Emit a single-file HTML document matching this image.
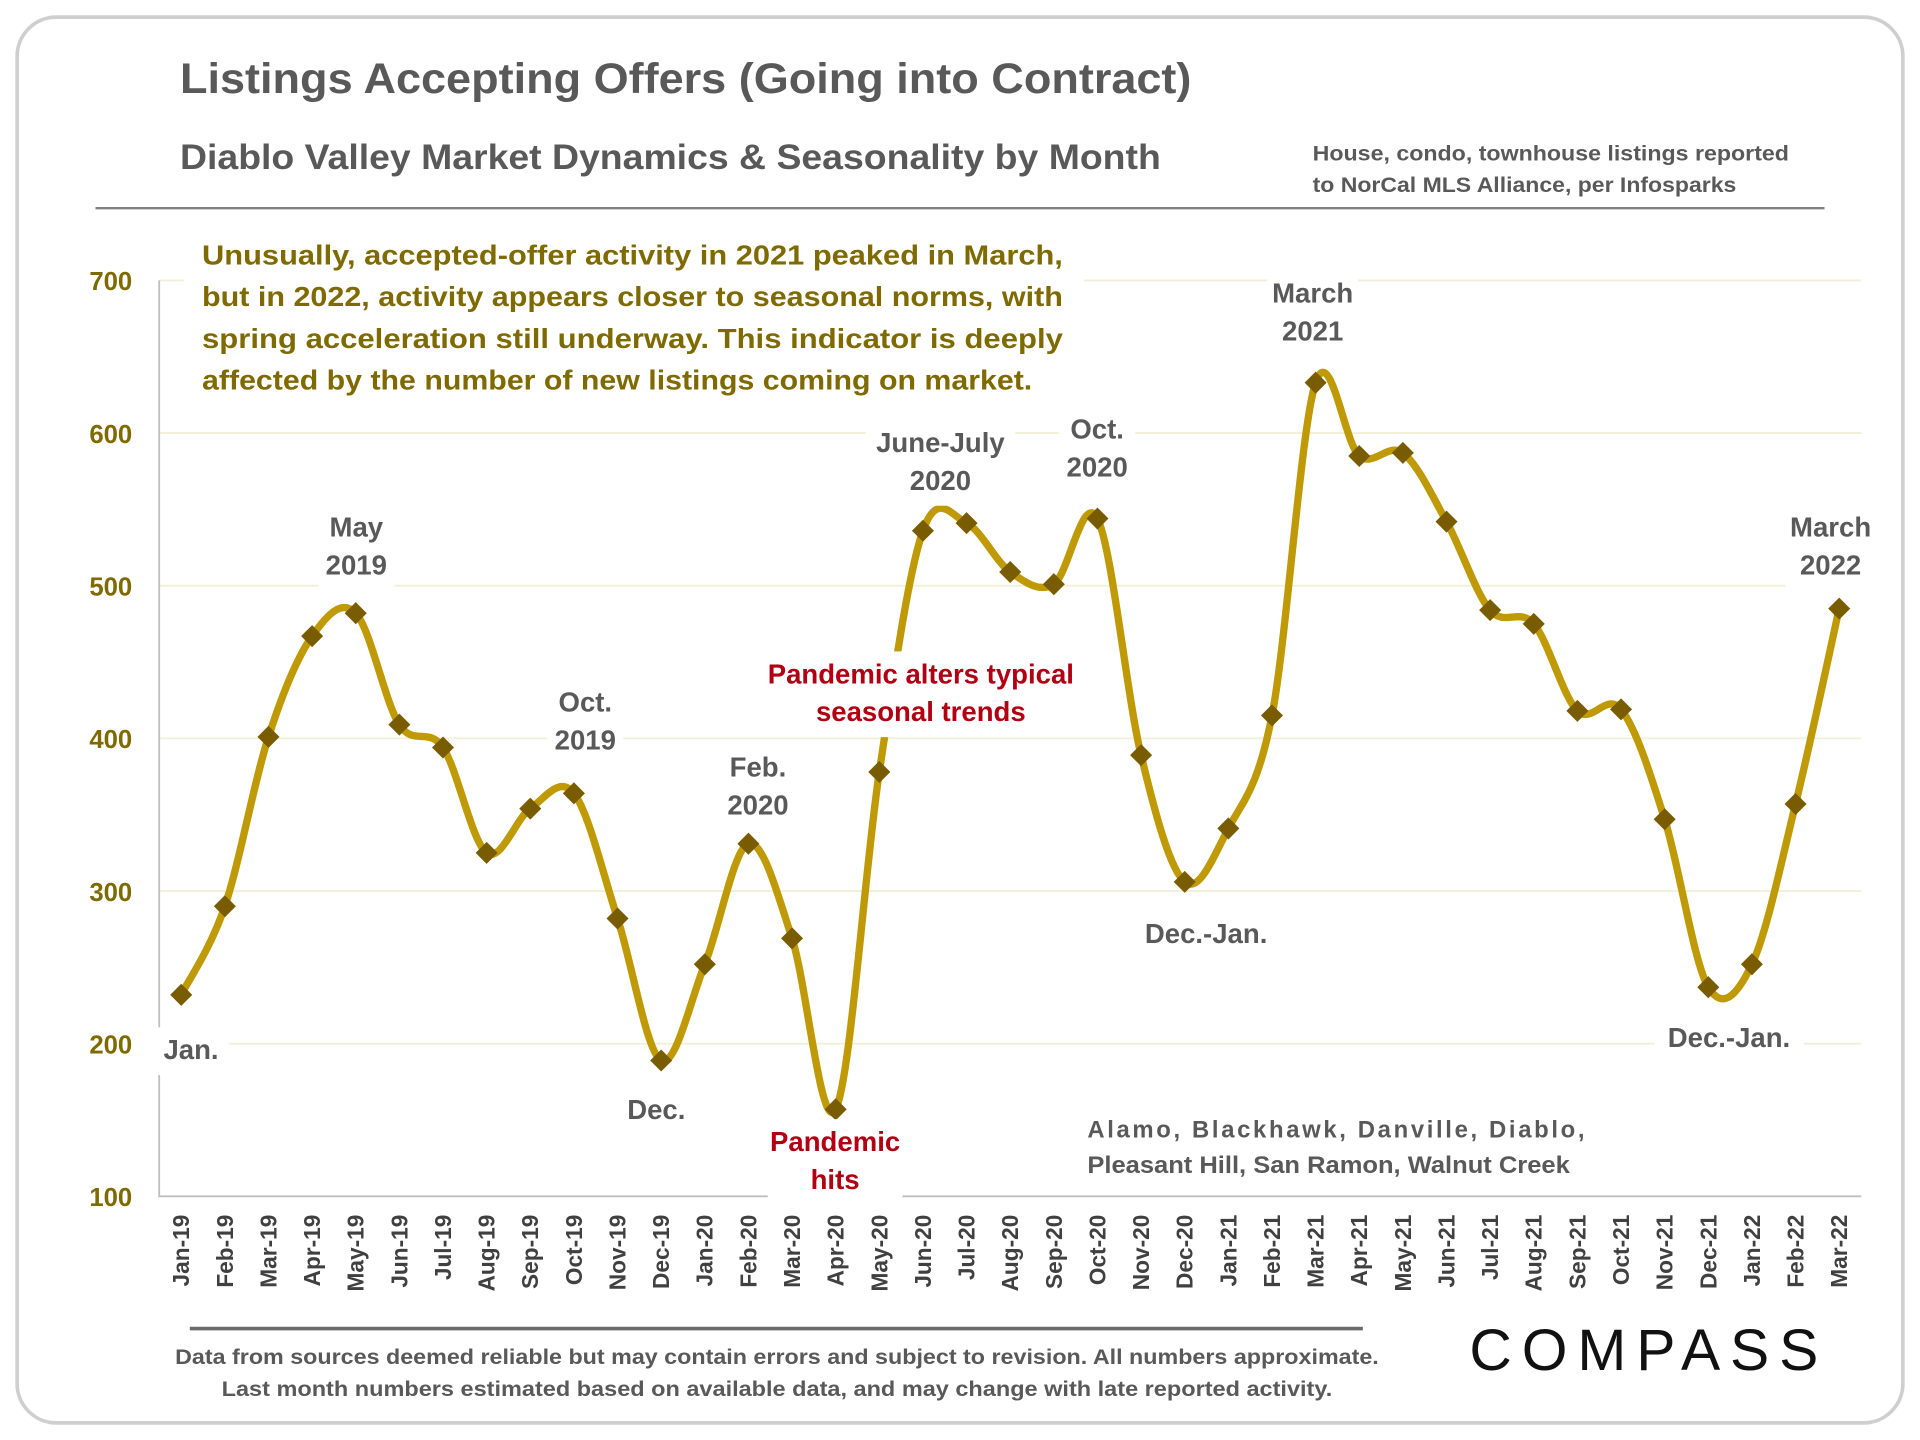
<!DOCTYPE html>
<html><head><meta charset="utf-8">
<style>
html,body{margin:0;padding:0;background:#fff;}
svg{display:block;}
text{font-family:"Liberation Sans",sans-serif;font-weight:bold;}
</style></head>
<body>
<svg id="chart" width="1920" height="1440" viewBox="0 0 1568 1176">
<rect x="14" y="14" width="1540" height="1148" rx="32" fill="#fff" stroke="#cfcfcf" stroke-width="3"/>
<text x="147" y="76" font-size="35" fill="#595959" textLength="826" lengthAdjust="spacingAndGlyphs">Listings Accepting Offers (Going into Contract)</text>
<text x="147" y="138" font-size="29" fill="#595959" textLength="801" lengthAdjust="spacingAndGlyphs">Diablo Valley Market Dynamics &amp; Seasonality by Month</text>
<text font-size="17.5" fill="#595959"><tspan x="1072" y="131" textLength="389" lengthAdjust="spacingAndGlyphs">House, condo, townhouse listings reported</tspan><tspan x="1072" y="157" textLength="346" lengthAdjust="spacingAndGlyphs">to NorCal MLS Alliance, per Infosparks</tspan></text>
<line x1="78" y1="170" x2="1490" y2="170" stroke="#808080" stroke-width="2"/>
<g id="grid"></g>
<g id="axes"></g>
<g id="series"></g>
<g id="annotations"></g>
<line x1="155" y1="1085" x2="1113" y2="1085" stroke="#6b6b6b" stroke-width="3"/>
<text font-size="17.5" fill="#595959"><tspan x="143" y="1114" textLength="983" lengthAdjust="spacingAndGlyphs">Data from sources deemed reliable but may contain errors and subject to revision. All numbers approximate.</tspan><tspan x="181" y="1140" textLength="907" lengthAdjust="spacingAndGlyphs">Last month numbers estimated based on available data, and may change with late reported activity.</tspan></text>
<text x="1200" y="1119" font-size="48" fill="#111" textLength="285" lengthAdjust="spacing" style="font-weight:normal">COMPASS</text>
</svg>
<script>
const months = ["Jan-19","Feb-19","Mar-19","Apr-19","May-19","Jun-19","Jul-19","Aug-19","Sep-19","Oct-19","Nov-19","Dec-19","Jan-20","Feb-20","Mar-20","Apr-20","May-20","Jun-20","Jul-20","Aug-20","Sep-20","Oct-20","Nov-20","Dec-20","Jan-21","Feb-21","Mar-21","Apr-21","May-21","Jun-21","Jul-21","Aug-21","Sep-21","Oct-21","Nov-21","Dec-21","Jan-22","Feb-22","Mar-22"];
const values = [232,290,401,467,482,409,394,325,354,364,282,189,252,331,269,157,378,536,541,509,501,544,389,306,341,415,633,585,587,542,484,475,418,419,347,237,252,357,485];
const yTicks = [100,200,300,400,500,600,700];

const NS="http://www.w3.org/2000/svg";
const x0=148, x1=1502, plotL=130, plotR=1520, yTop=229, yBot=977;
function xScale(i){return x0+(x1-x0)*i/(months.length-1);}
function yScale(v){return yBot-(v-100)/600*(yBot-yTop);}
function mk(tag,attrs,parent,text){const e=document.createElementNS(NS,tag);for(const k in attrs)e.setAttribute(k,attrs[k]);if(text!==undefined)e.textContent=text;parent.appendChild(e);return e;}

const grid=document.getElementById('grid'), axes=document.getElementById('axes'), series=document.getElementById('series'), ann=document.getElementById('annotations');
yTicks.forEach(t=>{
  const y=yScale(t);
  if(t>100){const g=mk('line',{x1:plotL,x2:plotR,y1:y,y2:y,stroke:'#f3efd6','stroke-width':1.5},grid);
  
  }
  const l=mk('text',{x:108,y:y+8,'font-size':21,fill:'#7f6a00','text-anchor':'end'},axes,String(t));
  
  
});
const ax=mk('path',{d:`M${plotL},${yTop} V${yBot} H${plotR}`,fill:'none',stroke:'#bfbfbf','stroke-width':1.5},axes);


months.forEach((m,i)=>{
  const x=xScale(i);
  const t=mk('text',{x:0,y:0,'font-size':18.5,fill:'#404040','text-anchor':'end',transform:`translate(${x+6.5},992) rotate(-90)`},axes,m);
  
  
});
const pts=values.map((v,i)=>[xScale(i),yScale(v)]);
let d=`M${pts[0][0]},${pts[0][1]}`;
for(let i=0;i<pts.length-1;i++){
  const p0=pts[Math.max(i-1,0)],p1=pts[i],p2=pts[i+1],p3=pts[Math.min(i+2,pts.length-1)];
  const c1=[p1[0]+(p2[0]-p0[0])/6,p1[1]+(p2[1]-p0[1])/6];
  const c2=[p2[0]-(p3[0]-p1[0])/6,p2[1]-(p3[1]-p1[1])/6];
  d+=` C${c1[0]},${c1[1]} ${c2[0]},${c2[1]} ${p2[0]},${p2[1]}`;
}
const line=mk('path',{d:d,fill:'none',stroke:'#bf9a06','stroke-width':6,'stroke-linejoin':'round'},series);


pts.forEach((p,i)=>{
  const s=9;
  const mkr=mk('path',{d:`M${p[0]},${p[1]-s} L${p[0]+s},${p[1]} L${p[0]},${p[1]+s} L${p[0]-s},${p[1]} Z`,fill:'#7a5c00'},series);
  
  
});
const notes=[
  {n:'label-jan',lines:['Jan.'],x:156,y:865,c:'#595959'},
  {n:'label-may-2019',lines:['May','2019'],x:291,y:438,c:'#595959'},
  {n:'label-oct-2019',lines:['Oct.','2019'],x:478,y:581,c:'#595959'},
  {n:'label-dec',lines:['Dec.'],x:536,y:914,c:'#595959'},
  {n:'label-feb-2020',lines:['Feb.','2020'],x:619,y:634,c:'#595959'},
  {n:'label-pandemic-hits',lines:['Pandemic','hits'],x:682,y:940,c:'#b00012'},
  {n:'label-pandemic-alters',lines:['Pandemic alters typical','seasonal trends'],x:752,y:558,c:'#b00012'},
  {n:'label-june-july-2020',lines:['June-July','2020'],x:768,y:369,c:'#595959'},
  {n:'label-oct-2020',lines:['Oct.','2020'],x:896,y:358,c:'#595959'},
  {n:'label-dec-jan-2021',lines:['Dec.-Jan.'],x:985,y:770,c:'#595959'},
  {n:'label-march-2021',lines:['March','2021'],x:1072,y:247,c:'#595959'},
  {n:'label-dec-jan-2022',lines:['Dec.-Jan.'],x:1412,y:855,c:'#595959'},
  {n:'label-march-2022',lines:['March','2022'],x:1495,y:438,c:'#595959'}
];
notes.forEach(o=>{
  const w=Math.max(...o.lines.map(l=>l.length))*12+14;
  const bg=mk('rect',{x:o.x-w/2,y:o.y-26,width:w,height:o.lines.length*31+8,fill:'#fff'},ann);
  
  
  const t=mk('text',{x:o.x,y:o.y,'font-size':22.5,fill:o.c,'text-anchor':'middle'},ann);
  
  
  o.lines.forEach((l,k)=>mk('tspan',{x:o.x,dy:k?31:0},t,l));
});
const para=['Unusually, accepted-offer activity in 2021 peaked in March,','but in 2022, activity appears closer to seasonal norms, with','spring acceleration still underway. This indicator is deeply','affected by the number of new listings coming on market.'];
const pbg=mk('rect',{x:150,y:188,width:735,height:140,fill:'#fff'},ann);


para.forEach((l,k)=>{
  const attrs={x:165,y:216+k*34,'font-size':23,fill:'#7f6a00'};
  attrs.textLength=k<3?703:678;attrs.lengthAdjust='spacingAndGlyphs';
  const t=mk('text',attrs,ann,l);
  
  
});
const reg=mk('text',{'font-size':19.5,fill:'#595959'},ann);


mk('tspan',{x:888,y:929,textLength:406,lengthAdjust:'spacing'},reg,'Alamo, Blackhawk, Danville, Diablo,');
mk('tspan',{x:888,y:958,textLength:394,lengthAdjust:'spacingAndGlyphs'},reg,'Pleasant Hill, San Ramon, Walnut Creek');
</script>
</body></html>
